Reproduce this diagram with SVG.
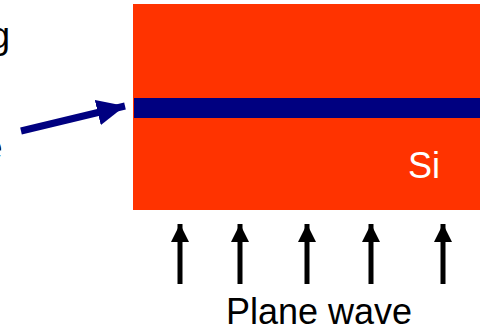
<svg xmlns="http://www.w3.org/2000/svg" width="480" height="328" viewBox="0 0 480 328">
<style>
text{font-family:"Liberation Sans",Arial,sans-serif;font-size:36px;fill:#000}
.up{stroke:#000;stroke-width:5;fill:none}
</style>
<defs>
<marker id="ah" markerUnits="userSpaceOnUse" markerWidth="18" markerHeight="18" refX="16" refY="8" orient="auto" viewBox="0 0 16 16">
<path d="M0,0 L16,8 L0,16 Z" fill="#000"/>
</marker>
<marker id="bh" markerUnits="userSpaceOnUse" markerWidth="28" markerHeight="26" refX="26" refY="12" orient="auto" viewBox="0 0 26 24">
<path d="M0,0 L26,12 L0,24 Z" fill="#000080"/>
</marker>
</defs>
<rect width="480" height="328" fill="#fff"/>
<g id="label-top"><text x="10" y="48" text-anchor="end">g</text></g>
<g id="label-mid"><text x="2.5" y="160" text-anchor="end" fill="#000">e</text></g>
<g id="si-block">
<rect x="133" y="4" width="347" height="206" fill="#FF3300"/>
<rect x="134" y="98" width="346" height="20" fill="#000080"/>
<text x="408" y="178" style="fill:#fff">Si</text>
</g>
<g id="connectors">
<line x1="21" y1="131" x2="125" y2="106" stroke="#000080" stroke-width="7" marker-end="url(#bh)"/>
<line class="up" x1="180" y1="284" x2="180" y2="224" marker-end="url(#ah)"/>
<line class="up" x1="240" y1="284" x2="240" y2="224" marker-end="url(#ah)"/>
<line class="up" x1="307" y1="284" x2="307" y2="224" marker-end="url(#ah)"/>
<line class="up" x1="371" y1="284" x2="371" y2="224" marker-end="url(#ah)"/>
<line class="up" x1="443" y1="284" x2="443" y2="224" marker-end="url(#ah)"/>
</g>
<g id="label-bottom"><text x="226" y="324">Plane wave</text></g>
</svg>
